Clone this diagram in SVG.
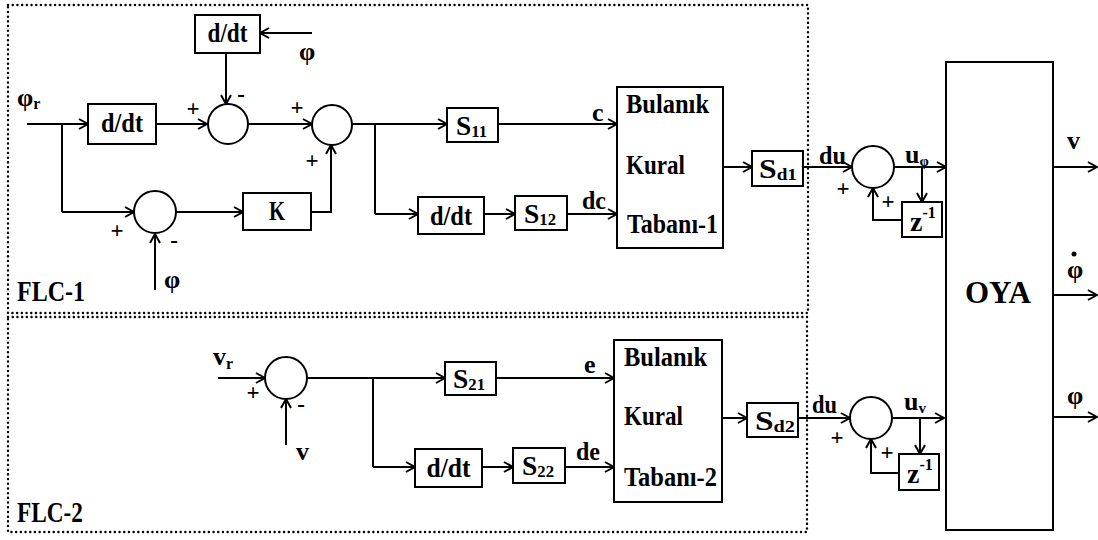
<svg xmlns="http://www.w3.org/2000/svg" width="1098" height="540" viewBox="0 0 1098 540">
<defs>
<marker id="arr" markerWidth="12" markerHeight="12" refX="9" refY="0" viewBox="-1 -6 12 12" orient="auto" markerUnits="userSpaceOnUse">
<path d="M0,-5 L9,0 L0,5" fill="none" stroke="#000" stroke-width="2"/>
</marker>
<style>
.b{fill:#fff;stroke:#000;stroke-width:2}
.c{fill:#fff;stroke:#000;stroke-width:2}
.dot{fill:none;stroke:#000;stroke-width:2.4;stroke-dasharray:0.1 4.6;stroke-linecap:round}
.w{fill:none;stroke:#000;stroke-width:2;marker-end:url(#arr)}
.l{fill:none;stroke:#000;stroke-width:2}
text{font-family:"Liberation Serif","Times New Roman",serif;font-weight:bold;fill:#000}
.t{font-size:26px}
.k{font-size:28px}
.f{font-size:29px}
.s{font-size:28px}
.p{font-size:23px}
.m{text-anchor:middle}
</style>
</defs>
<rect width="1098" height="540" fill="#fff"/>

<g id="frames">
<rect class="dot" x="8" y="5" width="800" height="308"/>
<rect class="dot" x="8" y="317" width="799" height="215"/>
<text class="f" x="17" y="301" textLength="68" lengthAdjust="spacingAndGlyphs">FLC-1</text>
<text class="f" x="17" y="522" textLength="66" lengthAdjust="spacingAndGlyphs">FLC-2</text>
</g>

<g id="connectors">
<path class="w" d="M27,124 H88"/>
<path class="l" d="M62,124 V212"/>
<path class="w" d="M62,212 H134"/>
<path class="w" d="M312,33 H260"/>
<path class="w" d="M226,53 V104"/>
<path class="w" d="M156,124 H207"/>
<path class="w" d="M248,124 H312"/>
<path class="w" d="M155,290 V234"/>
<path class="w" d="M176,212 H243"/>
<path class="w" d="M311,212 H331 V145"/>
<path class="w" d="M352,124 H447"/>
<path class="l" d="M375,124 V214"/>
<path class="w" d="M375,214 H418"/>
<path class="w" d="M498,124 H617"/>
<path class="w" d="M484,214 H515"/>
<path class="w" d="M567,214 H617"/>
<path class="w" d="M723,167 H752"/>
<path class="w" d="M803,167 H852"/>
<path class="w" d="M894,167 H946"/>
<path class="w" d="M922,167 V202"/>
<path class="w" d="M902,220 H873 V188"/>
<path class="w" d="M1053,167 H1097"/>
<path class="w" d="M1053,295 H1097"/>
<path class="w" d="M1053,417 H1097"/>
<path class="w" d="M218,378 H265"/>
<path class="w" d="M286,445 V399"/>
<path class="w" d="M307,378 H445"/>
<path class="l" d="M373,378 V467"/>
<path class="w" d="M373,467 H415"/>
<path class="w" d="M496,378 H614"/>
<path class="w" d="M482,467 H513"/>
<path class="w" d="M565,467 H614"/>
<path class="w" d="M722,418 H747"/>
<path class="w" d="M798,418 H850"/>
<path class="w" d="M892,418 H944"/>
<path class="w" d="M920,418 V454"/>
<path class="w" d="M899,473 H871 V439"/>
</g>

<g id="labels">
<text class="t" x="17" y="106">φ<tspan font-size="16" dy="3">r</tspan></text>
<text class="t" x="299" y="60">φ</text>
<text class="t" x="164" y="288">φ</text>
<text class="p m" x="193" y="116">+</text>
<text class="p m" x="241" y="102">-</text>
<text class="p m" x="297" y="115">+</text>
<text class="p m" x="312" y="168">+</text>
<text class="p m" x="117" y="238">+</text>
<text class="p m" x="174" y="248">-</text>
<text class="t" x="592" y="121">c</text>
<text class="t" x="582" y="209" textLength="24" lengthAdjust="spacingAndGlyphs">dc</text>
<text class="t" x="819" y="164" textLength="27" lengthAdjust="spacingAndGlyphs">du</text>
<text class="t" x="905" y="163">u<tspan font-size="15" dy="3">φ</tspan></text>
<text class="p m" x="843" y="196">+</text>
<text class="p m" x="888" y="209">+</text>
<text class="t" x="1067" y="149">v</text>
<circle cx="1074" cy="254" r="2.5" fill="#000"/>
<text class="t" x="1067" y="278">φ</text>
<text class="t" x="1067" y="404">φ</text>
<text class="t" x="213" y="365">v<tspan font-size="16" dy="4">r</tspan></text>
<text class="p m" x="253" y="400">+</text>
<text class="p m" x="301" y="412">-</text>
<text class="t" x="296" y="460">v</text>
<text class="t" x="584" y="373">e</text>
<text class="t" x="576" y="460" textLength="24" lengthAdjust="spacingAndGlyphs">de</text>
<text class="t" x="812" y="413" textLength="25" lengthAdjust="spacingAndGlyphs">du</text>
<text class="t" x="904" y="410">u<tspan font-size="15" dy="3">v</tspan></text>
<text class="p m" x="837" y="445">+</text>
<text class="p m" x="887" y="460">+</text>
</g>

<g id="ddt1"><rect class="b" x="88" y="104" width="68" height="40"/><text class="k m" x="122" y="132" textLength="42" lengthAdjust="spacingAndGlyphs">d/dt</text></g>
<g id="ddt2"><rect class="b" x="195" y="15" width="65" height="38"/><text class="k m" x="227.5" y="42" textLength="40" lengthAdjust="spacingAndGlyphs">d/dt</text></g>
<g id="sumA"><circle class="c" cx="228" cy="124" r="20"/></g>
<g id="sumB"><circle class="c" cx="332" cy="125" r="20"/></g>
<g id="sumC"><circle class="c" cx="155" cy="212" r="21"/></g>
<g id="K"><rect class="b" x="243" y="193" width="68" height="37"/><text class="k m" x="277" y="220" textLength="16" lengthAdjust="spacingAndGlyphs">K</text></g>
<g id="S11"><rect class="b" x="447" y="108" width="51" height="34"/><text class="s" x="456" y="135" textLength="31" lengthAdjust="spacingAndGlyphs">S<tspan font-size="17" dy="2">11</tspan></text></g>
<g id="ddt3"><rect class="b" x="418" y="197" width="66" height="37"/><text class="k m" x="451" y="225" textLength="42" lengthAdjust="spacingAndGlyphs">d/dt</text></g>
<g id="S12"><rect class="b" x="515" y="196" width="52" height="34"/><text class="s" x="524" y="223" textLength="32" lengthAdjust="spacingAndGlyphs">S<tspan font-size="17" dy="2">12</tspan></text></g>
<g id="FKT1"><rect class="b" x="617" y="87" width="106" height="161"/>
<text class="k" x="626" y="113" textLength="83" lengthAdjust="spacingAndGlyphs">Bulanık</text><text class="k" x="626" y="174" textLength="59" lengthAdjust="spacingAndGlyphs">Kural</text><text class="k" x="627" y="233" textLength="91" lengthAdjust="spacingAndGlyphs">Tabanı-1</text></g>
<g id="Sd1"><rect class="b" x="752" y="151" width="51" height="35"/><text class="s" x="759" y="178" textLength="38" lengthAdjust="spacingAndGlyphs">S<tspan font-size="17" dy="2">d1</tspan></text></g>
<g id="sumD"><circle class="c" cx="873" cy="167" r="21"/></g>
<g id="z1"><rect class="b" x="902" y="202" width="40" height="35"/><text class="k" x="910" y="231">z<tspan font-size="16" dy="-13">-1</tspan></text></g>

<g id="sumE"><circle class="c" cx="286" cy="378" r="21"/></g>
<g id="S21"><rect class="b" x="445" y="362" width="51" height="33"/><text class="s" x="453" y="388" textLength="32" lengthAdjust="spacingAndGlyphs">S<tspan font-size="17" dy="2">21</tspan></text></g>
<g id="ddt4"><rect class="b" x="415" y="449" width="67" height="38"/><text class="k m" x="448.5" y="477" textLength="44" lengthAdjust="spacingAndGlyphs">d/dt</text></g>
<g id="S22"><rect class="b" x="513" y="448" width="52" height="35"/><text class="s" x="522" y="475" textLength="32" lengthAdjust="spacingAndGlyphs">S<tspan font-size="17" dy="2">22</tspan></text></g>
<g id="FKT2"><rect class="b" x="614" y="340" width="108" height="162"/>
<text class="k" x="624" y="366" textLength="83" lengthAdjust="spacingAndGlyphs">Bulanık</text><text class="k" x="624" y="425" textLength="59" lengthAdjust="spacingAndGlyphs">Kural</text><text class="k" x="624" y="486" textLength="93" lengthAdjust="spacingAndGlyphs">Tabanı-2</text></g>
<g id="Sd2"><rect class="b" x="747" y="403" width="51" height="34"/><text class="s" x="755" y="430" textLength="40" lengthAdjust="spacingAndGlyphs">S<tspan font-size="17" dy="2">d2</tspan></text></g>
<g id="sumF"><circle class="c" cx="871" cy="418" r="21"/></g>
<g id="z2"><rect class="b" x="899" y="454" width="40" height="36"/><text class="k" x="907" y="483">z<tspan font-size="16" dy="-13">-1</tspan></text></g>

<g id="OYA"><rect class="b" x="946" y="62" width="107" height="468"/><text class="m" font-size="31" x="998" y="303">OYA</text></g>
</svg>
